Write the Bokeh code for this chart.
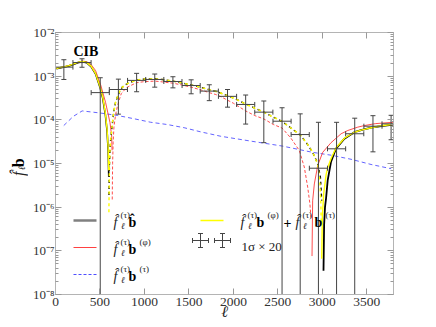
import numpy as np
from bokeh.plotting import figure
from bokeh.layouts import row
from bokeh.core.properties import value
from bokeh.models import (FixedTicker, CustomJSTickFormatter, LinearAxis, LogAxis,
                          Label, Arrow, TeeHead)
from bokeh.embed import file_html
from bokeh.resources import INLINE

# ---------------- data ----------------
ell_bins = [94, 298, 503, 707, 912, 1116, 1320, 1525, 1729, 1934, 2138, 2342,
            2547, 2751, 2956, 3160, 3364, 3569, 3773]
bin_vals = [1.61e-3, 2.05e-3, 4.2e-4, 4.95e-4, 8.0e-4, 8.4e-4, 7.55e-4, 6.1e-4,
            4.55e-4, 3.45e-4, 2.25e-4, 1.5e-4, 9.3e-5, 4.6e-5, 7.8e-6, 2.17e-5,
            4.8e-5, 7.15e-5, 8.1e-5]
bin_errs = [7.7e-4, 4.5e-4, 5.0e-4, 3.6e-4, 3.6e-4, 2.8e-4, 2.15e-4, 2.15e-4,
            1.8e-4, 1.5e-4, 1.45e-4, 1.2e-4, 9.6e-5, 9.1e-5, 8.0e-5, 6.6e-5,
            6.1e-5, 5.3e-5, 4.6e-5]
bin_halfwidth = [102] * 19

# total  f_l b_hat  (black)
black_pos1_l = [10, 50, 100, 150, 200, 250, 300, 350, 400, 450, 500, 530, 560, 580, 592, 599]
black_pos1_v = [1.48e-3, 1.55e-3, 1.62e-3, 1.72e-3, 1.85e-3, 2.04e-3, 2.15e-3, 2.04e-3,
                1.66e-3, 1.13e-3, 5.6e-4, 3.2e-4, 1.35e-4, 5.5e-5, 2.0e-5, 5e-6]
black_neg_l = [601, 606, 612, 620, 631, 645, 657, 675, 695, 720, 751, 800, 845, 920, 1000,
               1119, 1200, 1321, 1420, 1524, 1627, 1727, 1802, 1934, 2040, 2138, 2240, 2342,
               2450, 2547, 2647, 2751, 2816, 2891, 2948, 2978, 2993]
black_neg_v = [1.9e-6, 9e-6, 2e-5, 3.5e-5, 5.5e-5, 1.05e-4, 1.6e-4, 2.5e-4, 3.3e-4, 4.4e-4,
               5.6e-4, 6.6e-4, 7.3e-4, 8.2e-4, 8.6e-4, 8.7e-4, 8.4e-4, 7.7e-4, 7.0e-4, 6.3e-4,
               5.6e-4, 4.9e-4, 4.5e-4, 3.6e-4, 2.9e-4, 2.3e-4, 1.85e-4, 1.5e-4, 1.15e-4,
               9.2e-5, 6.5e-5, 4.5e-5, 3.1e-5, 1.8e-5, 1.0e-5, 4.9e-6, 1.4e-6]
black_pos2_l = [3013, 3020, 3030, 3042, 3060, 3098, 3154, 3248, 3360, 3436, 3550, 3661, 3800]
black_pos2_v = [3.5e-8, 4e-7, 1e-6, 1.6e-6, 4.1e-6, 1.1e-5, 2.2e-5, 3.7e-5, 5.2e-5,
                5.8e-5, 6.6e-5, 7.2e-5, 7.8e-5]

# sum  (yellow)
yel_pos1_l = [10, 50, 100, 150, 200, 250, 300, 350, 400, 450, 500, 530, 560, 580, 592, 598]
yel_pos1_v = [1.5e-3, 1.57e-3, 1.64e-3, 1.75e-3, 1.88e-3, 2.07e-3, 2.18e-3, 2.07e-3,
              1.7e-3, 1.16e-3, 5.8e-4, 3.4e-4, 1.45e-4, 6e-5, 2.3e-5, 7e-6]
yel_neg_l = [600, 606, 612, 620, 631, 645, 657, 675, 695, 720, 751, 800, 845, 920, 1000,
             1119, 1200, 1321, 1420, 1524, 1627, 1727, 1802, 1934, 2040, 2138, 2240, 2342,
             2450, 2547, 2647, 2751, 2816, 2891, 2948, 2970, 2982, 2988]
yel_neg_v = [6.5e-7, 9e-6, 2e-5, 3.5e-5, 5.5e-5, 1.05e-4, 1.6e-4, 2.5e-4, 3.3e-4, 4.4e-4,
             5.6e-4, 6.6e-4, 7.3e-4, 8.2e-4, 8.6e-4, 8.7e-4, 8.4e-4, 7.7e-4, 7.0e-4, 6.3e-4,
             5.6e-4, 4.9e-4, 4.5e-4, 3.6e-4, 2.9e-4, 2.3e-4, 1.85e-4, 1.5e-4, 1.15e-4,
             9.2e-5, 6.5e-5, 4.5e-5, 3.1e-5, 1.85e-5, 9.5e-6, 4.5e-6, 1.5e-6, 4.5e-7]
yel_pos2_l = [2993, 3000, 3015, 3042, 3060, 3098, 3154, 3248, 3360, 3436, 3550, 3661, 3800]
yel_pos2_v = [6.6e-8, 6e-7, 2e-6, 5.5e-6, 8e-6, 1.3e-5, 2.3e-5, 3.8e-5, 5.2e-5, 5.8e-5,
              6.6e-5, 7.3e-5, 7.9e-5]

# f b^(phi)  (red)
red_pos1_l = [10, 100, 200, 300, 350, 400, 450, 508, 563, 612, 631, 636]
red_pos1_v = [1.5e-3, 1.64e-3, 1.88e-3, 2.22e-3, 2.15e-3, 1.85e-3, 1.35e-3, 6.3e-4,
              2.5e-4, 8.8e-5, 4.4e-5, 2e-5]
red_neg_l = [638, 642, 648, 657, 675, 695, 720, 740, 800, 912, 1000, 1119, 1200, 1321,
             1420, 1524, 1627, 1727, 1802, 1858, 2000, 2138, 2240, 2342, 2450, 2547, 2647,
             2740, 2797, 2835, 2860, 2873]
red_neg_v = [1.5e-6, 1e-5, 3e-5, 6.8e-5, 1.3e-4, 2.0e-4, 3.0e-4, 4.0e-4, 5.5e-4, 7.1e-4,
             7.5e-4, 7.7e-4, 7.4e-4, 6.9e-4, 6.3e-4, 5.6e-4, 4.9e-4, 4.2e-4, 3.8e-4, 3.4e-4,
             2.4e-4, 1.6e-4, 1.25e-4, 1.05e-4, 7.8e-5, 6.5e-5, 3.8e-5, 2.0e-5, 8.3e-6,
             2.9e-6, 1.2e-6, 5.5e-7]
red_pos2_l = [2884, 2891, 2910, 2948, 3004, 3098, 3211, 3286, 3398, 3473, 3600, 3800]
red_pos2_v = [7.6e-8, 1.4e-6, 3.4e-6, 9e-6, 1.8e-5, 3.0e-5, 4.8e-5, 5.7e-5, 6.8e-5,
              7.4e-5, 8.2e-5, 8.8e-5]

# f b^(tau)  (blue, dashed)
blue_l = [93, 200, 300, 507, 695, 882, 1070, 1258, 1446, 1633, 1859, 2178, 2554, 2891,
          3098, 3323, 3548, 3774]
blue_v = [7.4e-5, 1.2e-4, 1.6e-4, 1.43e-4, 1.26e-4, 1.06e-4, 8.8e-5, 7.8e-5, 6.6e-5,
          5.3e-5, 4.2e-5, 3.3e-5, 2.5e-5, 1.8e-5, 1.55e-5, 1.25e-5, 9.5e-6, 7.6e-6]

x_ticks = [0, 500, 1000, 1500, 2000, 2500, 3000, 3500]
y_decades = [1e-8, 1e-7, 1e-6, 1e-5, 1e-4, 1e-3, 1e-2]

# ---------------- layout constants ----------------
FONT = "Liberation Serif"
FRAME_COL = "#b4b4b4"
TOTAL_H = 325
YLAB_W = 28

# ---------------- main figure ----------------
p = figure(width=430 - YLAB_W, height=TOTAL_H, x_range=(0, 3800), y_range=(1e-8, 1e-2),
           y_axis_type="log", output_backend="svg", toolbar_location=None,
           min_border_left=55 - YLAB_W, min_border_right=37, min_border_top=32,
           min_border_bottom=TOTAL_H - 294)
p.xgrid.visible = False
p.ygrid.visible = False
p.outline_line_color = FRAME_COL
p.background_fill_color = "white"
p.border_fill_color = "white"

y_minor = [m * d for d in y_decades[:-1] for m in range(2, 10)]
sup_js = """
const e = Math.round(Math.log10(tick));
const sup = {"-":"\u207b","0":"\u2070","1":"\u00b9","2":"\u00b2","3":"\u00b3","4":"\u2074",
             "5":"\u2075","6":"\u2076","7":"\u2077","8":"\u2078","9":"\u2079"};
return "10" + String(e).split("").map(c => sup[c]).join("");
"""

def style_axis(ax, labels=True, size="13.5px", standoff=3):
    ax.axis_line_color = FRAME_COL
    ax.major_tick_line_color = "#999999"
    ax.minor_tick_line_color = "#999999"
    ax.major_tick_in = 6
    ax.major_tick_out = 0
    ax.minor_tick_in = 3
    ax.minor_tick_out = 0
    ax.major_label_text_font = FONT
    ax.major_label_text_font_size = size
    ax.major_label_text_color = "#333333"
    ax.major_label_standoff = standoff
    if not labels:
        ax.major_label_text_font_size = "0px"
        ax.major_label_standoff = 0

p.xaxis.ticker = FixedTicker(ticks=x_ticks, minor_ticks=[])
style_axis(p.xaxis[0])
p.xaxis.axis_label = "\u2113"
p.xaxis.axis_label_text_font = FONT
p.xaxis.axis_label_text_font_style = "italic"
p.xaxis.axis_label_text_font_size = "16px"
p.xaxis.axis_label_text_color = "#222222"
p.xaxis.axis_label_standoff = -6

p.yaxis.ticker = FixedTicker(ticks=y_decades, minor_ticks=y_minor)
p.yaxis.formatter = CustomJSTickFormatter(code=sup_js)
style_axis(p.yaxis[0], size="13px", standoff=1)

top_ax = LinearAxis(ticker=FixedTicker(ticks=x_ticks, minor_ticks=[]),
                    formatter=CustomJSTickFormatter(code="return '';"))
style_axis(top_ax, labels=False)
p.add_layout(top_ax, "above")
right_ax = LogAxis(ticker=FixedTicker(ticks=y_decades, minor_ticks=y_minor),
                   formatter=CustomJSTickFormatter(code="return '';"))
style_axis(right_ax, labels=False)
p.add_layout(right_ax, "right")

# ---------------- curves ----------------
RED = "#ff2020"
YEL = "#ffff00"
BLUE = "#3030ff"
p.line(blue_l, blue_v, line_color=BLUE, line_width=1, line_dash="4 3", line_alpha=0.75)
p.line(red_pos1_l, red_pos1_v, line_color=RED, line_width=1, line_alpha=0.8)
p.line(red_neg_l, red_neg_v, line_color=RED, line_width=1, line_dash="3 2", line_alpha=0.8)
p.line(red_pos2_l, red_pos2_v, line_color=RED, line_width=1, line_alpha=0.8)
p.line(black_pos1_l, black_pos1_v, line_color="black", line_width=1.6)
p.line(black_neg_l, black_neg_v, line_color="black", line_width=1.4, line_dash="3 3")
p.line(black_pos2_l, black_pos2_v, line_color="black", line_width=1.8)
p.line(yel_pos1_l, yel_pos1_v, line_color=YEL, line_width=1.4)
p.line(yel_neg_l, yel_neg_v, line_color=YEL, line_width=1.4, line_dash="3 3",
       line_dash_offset=3)
p.line(yel_pos2_l, yel_pos2_v, line_color=YEL, line_width=1.4)

# ---------------- error bars (1 sigma x 20) ----------------
EB = "#444444"
ell = np.array(ell_bins, dtype=float)
val = np.array(bin_vals)
err = np.array(bin_errs)
hw = np.array(bin_halfwidth, dtype=float)
lo = val - err
lo_seg = np.where(lo > 0, lo, 1e-12)
lo_cap = np.where(lo > 0, lo, np.nan)
p.segment(ell, lo_seg, ell, val + err, line_color=EB, line_width=1.0)
p.segment(ell - hw, val, ell + hw, val, line_color=EB, line_width=1.0)
p.scatter(np.concatenate([ell, ell]), np.concatenate([val + err, lo_cap]), marker="dash",
          size=5, line_color=EB, line_width=1.0)
p.scatter(np.concatenate([ell - hw, ell + hw]), np.concatenate([val, val]), marker="dash",
          angle=np.pi / 2, size=5, line_color=EB, line_width=1.0)

# ---------------- in-frame annotations (window-pixel helpers) ----------------
FX0, FY0 = 55, 294   # window pixel of the frame's bottom-left corner


def lab(X, Y, text, size, style="normal", color="#222222"):
    p.add_layout(Label(x=X - FX0, y=FY0 - Y, x_units="screen", y_units="screen",
                       text=text, text_font=FONT, text_font_size=f"{size}px",
                       text_font_style=style, text_color=color,
                       text_baseline="alphabetic", text_align="left"))


def seg(X0, Y0, X1, Y1, color, width, dash="solid", alpha=1.0, caps=False):
    if caps:
        kw = dict(start=TeeHead(size=5, line_color=color, line_width=width),
                  end=TeeHead(size=5, line_color=color, line_width=width))
    else:
        kw = dict(end=None)
    p.add_layout(Arrow(x_start=X0 - FX0, y_start=FY0 - Y0, x_end=X1 - FX0, y_end=FY0 - Y1,
                       start_units="screen", end_units="screen", line_color=color,
                       line_width=width, line_dash=dash, line_alpha=alpha, **kw))


def ftau(X, Y):
    lab(X, Y, "f\u0302", 14, "italic")
    lab(X + 7, Y - 8, "(\u03c4)", 9)
    lab(X + 7.5, Y + 3, "\u2113", 9, "italic")


lab(73, 51, "CIB", 14, "bold", "black")

# legend column 1
seg(73, 220, 96, 220, "#808080", 2.5)
seg(73, 247, 96, 247, RED, 1.1, alpha=0.85)
seg(73, 274, 96, 274, BLUE, 1.1, dash="3 2", alpha=0.85)
ftau(113, 222)
lab(128, 222, "b\u0302", 14, "bold", "black")
ftau(113, 249)
lab(128, 249, "b", 14, "bold", "black")
lab(139, 241, "(\u03c6)", 9)
ftau(113, 276)
lab(128, 276, "b", 14, "bold", "black")
lab(139, 268, "(\u03c4)", 9)

# legend column 2
seg(200, 220, 223, 220, YEL, 1.5)
for cx in (200, 222):
    seg(cx - 8, 240, cx + 8, 240, EB, 1.0, caps=True)
    seg(cx, 233, cx, 247, EB, 1.0, caps=True)
ftau(240, 222)
lab(256, 222, "b", 14, "bold", "black")
lab(267, 214, "(\u03c6)", 9)
lab(283, 222, "+", 14, "bold", "black")
ftau(295, 222)
lab(314, 222, "b", 14, "bold", "black")
lab(325, 214, "(\u03c4)", 9)
lab(241, 246, "1\u03c3 \u00d7 20", 13)

# ---------------- y-axis label panel (left strip) ----------------
ylab = figure(width=YLAB_W, height=TOTAL_H, x_range=(0, YLAB_W), y_range=(0, TOTAL_H),
              output_backend="svg", toolbar_location=None, min_border=0,
              x_axis_location=None, y_axis_location=None)
ylab.grid.visible = False
ylab.outline_line_color = None


def ytext(X, Y, text, size, style, color="#222222"):
    ylab.text(x=[X], y=[TOTAL_H - Y], text=[text], angle=np.pi / 2,
              text_font=value(FONT), text_font_size=value(f"{size}px"),
              text_font_style=style, text_color=color,
              text_baseline="alphabetic", text_align="left")


ytext(18, 178, "f\u0302", 16, "italic")
ytext(21, 171, "\u2113", 10, "italic")
ytext(18, 167, "b", 16, "bold", "black")

layout = row(ylab, p, spacing=0)
open("out.html", "w").write(file_html(layout, INLINE))
